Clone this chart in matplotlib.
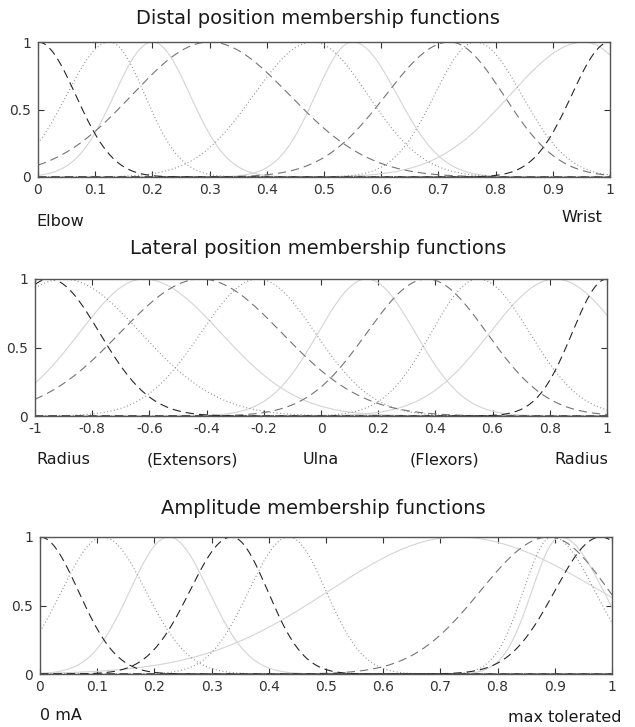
"""Gaussian membership functions for distal / lateral position and amplitude."""
import numpy as np
import matplotlib
matplotlib.use("Agg")
import matplotlib.pyplot as plt

plt.rcParams["font.family"] = "DejaVu Sans"
plt.rcParams["axes.unicode_minus"] = False

# --- data: each MF is a (possibly two-sided) gaussian: centre, left sigma, right sigma
distal_centers = [0.0, 0.125, 0.2, 0.3, 0.48, 0.55, 0.72, 0.765, 0.955, 1.0]
distal_sig_l = [0.066, 0.075, 0.067, 0.136, 0.103, 0.065, 0.112, 0.072, 0.13, 0.067]
distal_sig_r = [0.066, 0.062, 0.066, 0.14, 0.097, 0.078, 0.094, 0.081, 0.10, 0.067]
distal_kind = ["dark", "dot", "solid", "mid", "dot", "solid", "mid", "dot", "solid", "dark"]
distal_ticks = [0, 0.1, 0.2, 0.3, 0.4, 0.5, 0.6, 0.7, 0.8, 0.9, 1]

lateral_centers = [-0.95, -0.9, -0.62, -0.42, -0.22, 0.16, 0.37, 0.55, 0.82, 1.0]
lateral_sig_l = [0.176, 0.27, 0.225, 0.283, 0.2, 0.17, 0.21, 0.165, 0.23, 0.122]
lateral_sig_r = [0.176, 0.27, 0.27, 0.283, 0.2, 0.17, 0.21, 0.18, 0.23, 0.122]
lateral_kind = ["dark", "dot", "solid", "mid", "dot", "solid", "mid", "dot", "solid", "dark"]
lateral_ticks = [-1, -0.8, -0.6, -0.4, -0.2, 0, 0.2, 0.4, 0.6, 0.8, 1]

amp_centers = [0.0, 0.11, 0.225, 0.335, 0.435, 0.73, 0.89, 0.895, 0.91, 0.98]
amp_sig_l = [0.067, 0.072, 0.068, 0.073, 0.07, 0.225, 0.12, 0.05, 0.05, 0.08]
amp_sig_r = [0.067, 0.075, 0.07, 0.063, 0.065, 0.25, 0.105, 0.075, 0.075, 0.08]
amp_kind = ["dark", "dot", "solid", "dark", "dot", "solid", "mid", "dot", "solid", "dark"]
amp_ticks = [0, 0.1, 0.2, 0.3, 0.4, 0.5, 0.6, 0.7, 0.8, 0.9, 1]

y_ticks = [0, 0.5, 1]

styles = {
    "solid": dict(color="#d4d4d4", lw=0.8, ls="-"),
    "dot": dict(color="#8c8c8c", lw=0.8, ls=(0, (0.9, 2.2))),
    "mid": dict(color="#747474", lw=0.8, ls=(0, (7.5, 4.5))),
    "dark": dict(color="#262626", lw=0.8, ls=(0, (7.5, 4.5))),
}
draw_order = ["solid", "dot", "mid", "dark"]

W, H = 635, 727
fig = plt.figure(figsize=(W / 100, H / 100), dpi=100)


def px_axes(x0, y0, x1, y1):
    return fig.add_axes([x0 / W, 1 - y1 / H, (x1 - x0) / W, (y1 - y0) / H])


def mf_panel(ax, lo, hi, centers, sl, sr, kinds, ticks):
    x = np.linspace(lo, hi, 400)
    for k in draw_order:
        for c, a, b, kind in zip(centers, sl, sr, kinds):
            if kind != k:
                continue
            s = np.where(x < c, a, b)
            ax.plot(x, np.exp(-(x - c) ** 2 / (2 * s ** 2)), **styles[kind])
    ax.set_xlim(lo, hi)
    ax.set_ylim(0, 1)
    ax.set_xticks(ticks)
    ax.set_xticklabels(["%g" % t for t in ticks])
    ax.set_yticks(y_ticks)
    ax.set_yticklabels(["%g" % t for t in y_ticks])
    ax.tick_params(direction="in", length=4, width=0.8, top=True, right=True,
                   labelsize=10, colors="#333333")
    ax.tick_params(axis="x", pad=4)
    ax.tick_params(axis="y", pad=5)
    for sp in ax.spines.values():
        sp.set_color("#555555")
        sp.set_linewidth(1.0)


ax1 = px_axes(38, 42, 610, 177)
mf_panel(ax1, 0, 1, distal_centers, distal_sig_l, distal_sig_r, distal_kind, distal_ticks)
ax2 = px_axes(35, 279, 607, 416)
mf_panel(ax2, -1, 1, lateral_centers, lateral_sig_l, lateral_sig_r, lateral_kind, lateral_ticks)
ax3 = px_axes(40, 537, 612, 674)
mf_panel(ax3, 0, 1, amp_centers, amp_sig_l, amp_sig_r, amp_kind, amp_ticks)


def txt(x, y, s, size=11.5, ha="left"):
    fig.text(x / W, 1 - y / H, s, ha=ha, va="center", fontsize=size, color="#1a1a1a")


txt(318, 18, "Distal position membership functions", 14, "center")
txt(318, 249, "Lateral position membership functions", 14, "center")
txt(323, 509, "Amplitude membership functions", 14, "center")

txt(36, 221, "Elbow")
txt(602, 217, "Wrist", ha="right")
txt(36, 460, "Radius")
txt(192, 460, "(Extensors)", ha="center")
txt(321, 460, "Ulna", ha="center")
txt(444, 460, "(Flexors)", ha="center")
txt(608, 460, "Radius", ha="right")
txt(40, 716, "0 mA")
txt(622, 718, "max tolerated", ha="right")

fig.savefig("out.png", dpi=100)
